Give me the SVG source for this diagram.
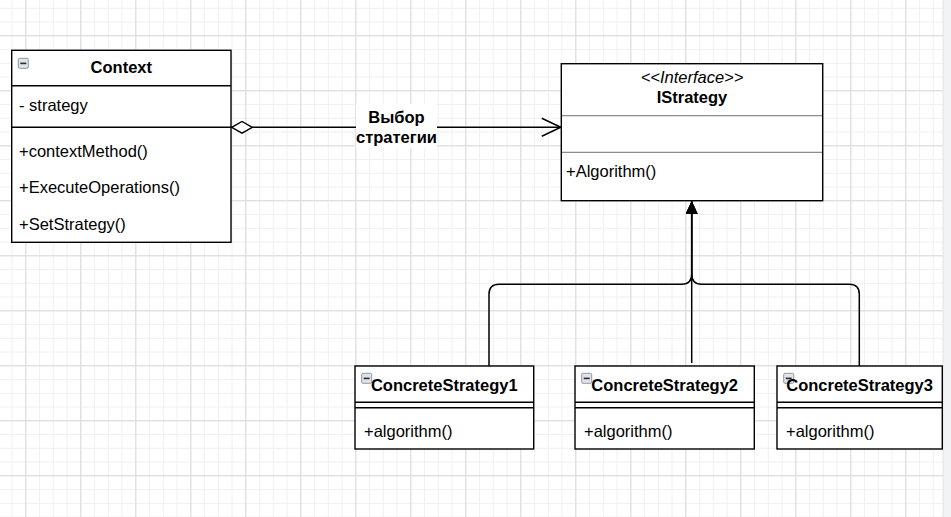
<svg xmlns="http://www.w3.org/2000/svg" width="951" height="517" viewBox="0 0 951 517">
<style>
text{font-family:"Liberation Sans",Arial,sans-serif;font-size:16.5px;fill:#000}
.b{font-weight:bold}
.c{text-anchor:middle}
.i{font-style:italic}
.box{fill:#fff;stroke:#000;stroke-width:1.4}
.div{stroke:#000;stroke-width:1.4}
.gdiv{stroke:#8c8c8c;stroke-width:1.2}
.edge{fill:none;stroke:#000;stroke-width:1.5}
</style>
<defs>
<pattern id="minor" patternUnits="userSpaceOnUse" x="25.3" y="35.3" width="13.75" height="13.75">
<path d="M13.75 0.5H0.5V13.75" fill="none" stroke="#f0f0f0" stroke-width="1"/>
</pattern>
<pattern id="major" patternUnits="userSpaceOnUse" x="25.3" y="35.3" width="55" height="55">
<path d="M55 0.5H0.5V55" fill="none" stroke="#d9d9d9" stroke-width="1"/>
</pattern>
<marker id="diamond" markerUnits="userSpaceOnUse" viewBox="0 0 22 13" refX="0" refY="6.5" markerWidth="22" markerHeight="13" orient="auto">
<path d="M0.7 6.5L11 0.7L21.3 6.5L11 12.3Z" fill="#fff" stroke="#000" stroke-width="1.4"/>
</marker>
<marker id="open" markerUnits="userSpaceOnUse" viewBox="0 0 20 20" refX="19.5" refY="10" markerWidth="20" markerHeight="20" orient="auto">
<path d="M0.5 1L19.5 10L0.5 19" fill="none" stroke="#000" stroke-width="1.5"/>
</marker>
<marker id="tri" markerUnits="userSpaceOnUse" viewBox="0 0 13 12" refX="13" refY="6" markerWidth="13" markerHeight="12" orient="auto">
<path d="M0 0L13 6L0 12Z" fill="#000"/>
</marker>
<g id="icon">
<rect x="0.5" y="0.5" width="10" height="10" rx="1.2" fill="#dfe4ea" stroke="#8d99a6" stroke-width="1"/>
<rect x="2.5" y="4.8" width="6" height="1.6" fill="#2a2a2a"/>
</g>
</defs>
<rect width="951" height="517" fill="#fff"/>
<rect width="951" height="517" fill="url(#minor)"/>
<rect width="951" height="517" fill="url(#major)"/>
<rect x="943" y="0" width="8" height="517" fill="#f2f3f5"/>
<line x1="943" y1="0" x2="943" y2="517" stroke="#e2e3e6" stroke-width="1"/>

<g id="connectors">
<path class="edge" d="M231 127.3H560.8" marker-start="url(#diamond)" marker-end="url(#open)"/>
<rect x="356" y="104" width="81" height="44" fill="#fff"/>
<text class="b c" x="396.5" y="123">Выбор</text>
<text class="b c" x="396.5" y="142.5">стратегии</text>
<path class="edge" d="M489 366V294.3Q489 284.3 499 284.3H681.7Q691.7 284.3 691.7 274.3V200.9" marker-end="url(#tri)"/>
<path class="edge" d="M691.7 363V200.9" marker-end="url(#tri)"/>
<path class="edge" d="M859.3 366V294.3Q859.3 284.3 849.3 284.3H701.7Q691.7 284.3 691.7 274.3V200.9" marker-end="url(#tri)"/>
</g>

<g id="context">
<rect class="box" x="11.7" y="50.3" width="219.3" height="192"/>
<line class="div" x1="11.7" y1="85.7" x2="231" y2="85.7"/>
<line class="div" x1="11.7" y1="127.3" x2="231" y2="127.3"/>
<use href="#icon" x="17.8" y="57.8"/>
<text class="b c" x="121.3" y="73.3">Context</text>
<text x="19" y="110.5">- strategy</text>
<text x="19" y="156.8">+contextMethod()</text>
<text x="19" y="193">+ExecuteOperations()</text>
<text x="19" y="229.5">+SetStrategy()</text>
</g>

<g id="istrategy">
<rect class="box" x="561.3" y="63.7" width="261.4" height="137"/>
<line class="gdiv" x1="562" y1="115.7" x2="822" y2="115.7"/>
<line class="gdiv" x1="562" y1="152.3" x2="822" y2="152.3"/>
<text class="i c" x="692" y="83.3">&lt;&lt;Interface&gt;&gt;</text>
<text class="b c" x="692" y="102.5">IStrategy</text>
<text x="566" y="176.7">+Algorithm()</text>
</g>

<g id="concrete1">
<rect class="box" x="355" y="366" width="178.7" height="83"/>
<line class="div" x1="355" y1="402.3" x2="533.7" y2="402.3"/>
<line class="div" x1="355" y1="407.7" x2="533.7" y2="407.7"/>
<use href="#icon" x="361.2" y="372.8"/>
<text class="b c" x="444.3" y="390.7">ConcreteStrategy1</text>
<text x="364" y="436.7">+algorithm()</text>
</g>

<g id="concrete2">
<rect class="box" x="575" y="366" width="179.3" height="83"/>
<line class="div" x1="575" y1="402.3" x2="754.3" y2="402.3"/>
<line class="div" x1="575" y1="407.7" x2="754.3" y2="407.7"/>
<use href="#icon" x="581.2" y="372.8"/>
<text class="b c" x="664.7" y="390.7">ConcreteStrategy2</text>
<text x="584" y="436.7">+algorithm()</text>
</g>

<g id="concrete3">
<rect class="box" x="777" y="366" width="165.3" height="83"/>
<line class="div" x1="777" y1="402.3" x2="942.3" y2="402.3"/>
<line class="div" x1="777" y1="407.7" x2="942.3" y2="407.7"/>
<use href="#icon" x="783.2" y="372.8"/>
<text class="b c" x="859.6" y="390.7">ConcreteStrategy3</text>
<text x="786" y="436.7">+algorithm()</text>
</g>
</svg>
